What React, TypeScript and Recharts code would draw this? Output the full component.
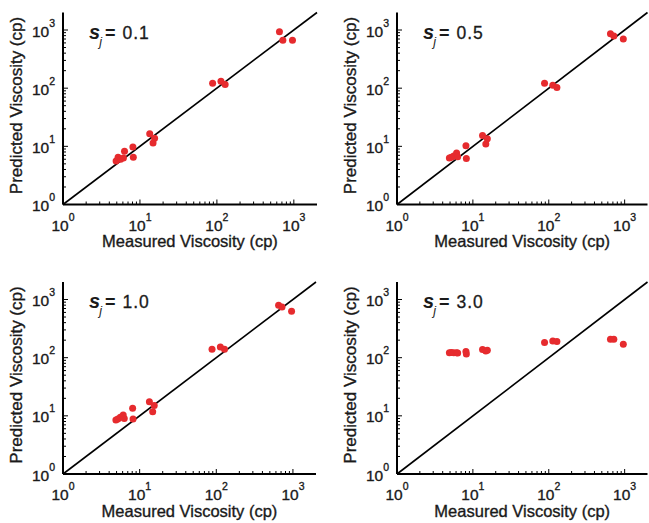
import React from 'react';
import { ScatterChart, Scatter, XAxis, YAxis, ReferenceLine } from 'recharts';

// ---- data ----
const measured = [4.9, 5.2, 5.6, 6.1, 6.3, 8.1, 8.2, 13.4, 14.8, 15.5, 88, 113, 128, 650, 720, 960];
const predictedS01 = [5.6, 6.5, 6.0, 6.3, 8.2, 9.7, 6.5, 16.4, 11.4, 13.8, 122, 132, 116, 930, 670, 670];
const predictedS05 = [6.3, 6.5, 6.8, 7.7, 6.6, 10.2, 6.2, 15.3, 11.0, 13.5, 121, 112, 103, 860, 790, 700];
const predictedS10 = [8.5, 8.8, 9.5, 10.3, 9.0, 13.5, 8.8, 17.5, 11.8, 15.0, 139, 152, 139, 800, 740, 630];
const predictedS30 = [122, 123, 122, 121, 120, 128, 116, 138, 130, 134, 182, 193, 190, 207, 207, 170];
const panelValues = ['0.1', '0.5', '1.0', '3.0'];
const axisDomain = [1, 2000];
const axisTicks = [1, 2, 3, 4, 5, 6, 7, 8, 9, 10, 20, 30, 40, 50, 60, 70, 80, 90, 100, 200, 300, 400, 500, 600, 700, 800, 900, 1000];
const majorTickLabels: Record<number, string> = { 1: '0', 10: '1', 100: '2', 1000: '3' };
const identityLine = [{ x: 1, y: 1 }, { x: 2000, y: 2000 }];

const FONT = '"Liberation Sans", Arial, Helvetica, sans-serif';
const TXT = '#1a1a1a';
const DOT = '#e62b2e';
const TXT_STROKE = 0.35;

const mk = (ys: number[]) => measured.map((x, i) => ({ x, y: ys[i] }));

function BottomTick(props: any) {
  const { x, y, payload } = props;
  const v = payload.value;
  const exp = majorTickLabels[v];
  const major = exp !== undefined;
  return (
    <g>
      <line x1={x} x2={x} y1={y} y2={y - (major ? 5 : 3)} stroke="#000" strokeWidth={1} />
      {major && (
        <text x={x} y={y + 26} textAnchor="middle" fontSize={15.5} fontFamily={FONT} fill={TXT} stroke={TXT} strokeWidth={TXT_STROKE}>
          10<tspan fontSize={10.5} dy={-10}>{exp}</tspan>
        </text>
      )}
    </g>
  );
}

function TopTick(props: any) {
  const { x, y, payload } = props;
  const major = majorTickLabels[payload.value] !== undefined;
  return <line x1={x} x2={x} y1={y} y2={y + (major ? 5 : 3)} stroke="#000" strokeWidth={1} />;
}

function LeftTick(props: any) {
  const { x, y, payload } = props;
  const v = payload.value;
  const exp = majorTickLabels[v];
  const major = exp !== undefined;
  return (
    <g>
      <line x1={x} x2={x + (major ? 5 : 3)} y1={y} y2={y} stroke="#000" strokeWidth={1} />
      {major && (
        <text x={x - 8} y={y + 6.5} textAnchor="end" fontSize={15.5} fontFamily={FONT} fill={TXT} stroke={TXT} strokeWidth={TXT_STROKE}>
          10<tspan fontSize={10.5} dy={-10}>{exp}</tspan>
        </text>
      )}
    </g>
  );
}

function makeRightTick(color: string) {
  return function RightTick(props: any) {
    const { x, y, payload } = props;
    const major = majorTickLabels[payload.value] !== undefined;
    return <line x1={x} x2={x - (major ? 5 : 3)} y1={y} y2={y} stroke={major ? '#666' : color} strokeWidth={1} />;
  };
}

const Dot = (props: any) => <circle cx={props.cx} cy={props.cy} r={3.5} fill={DOT} />;

type PanelCfg = {
  left: number; top: number; width: number; height: number;
  margin: { top: number; right: number; bottom: number; left: number };
  ys: number[]; sval: string; rightColor: string;
};

const panels: PanelCfg[] = [
  { left: 0, top: 0, width: 325, height: 260, margin: { top: 12.5, right: 8, bottom: 25.5, left: 18 }, ys: predictedS01, sval: panelValues[0], rightColor: '#000' },
  { left: 334, top: 0, width: 315, height: 260, margin: { top: 12.5, right: 1.5, bottom: 25.5, left: 18 }, ys: predictedS05, sval: panelValues[1], rightColor: '#b0b0b0' },
  { left: 0, top: 262, width: 325, height: 261, margin: { top: 20, right: 9, bottom: 19, left: 18 }, ys: predictedS10, sval: panelValues[2], rightColor: '#000' },
  { left: 334, top: 262, width: 315, height: 261, margin: { top: 20, right: 1.5, bottom: 19, left: 18 }, ys: predictedS30, sval: panelValues[3], rightColor: '#b0b0b0' },
];

const Y_AXIS_W = 45;
const X_AXIS_H = 30;

function Panel({ cfg }: { cfg: PanelCfg }) {
  const plotLeft = cfg.margin.left + Y_AXIS_W;
  const plotTop = cfg.margin.top;
  const RightTick = makeRightTick(cfg.rightColor);
  const solidRight = cfg.rightColor === '#000';
  return (
    <div style={{ position: 'absolute', left: cfg.left, top: cfg.top, width: cfg.width, height: cfg.height }}>
      <ScatterChart width={cfg.width} height={cfg.height} margin={cfg.margin}>
        <XAxis
          dataKey="x" type="number" scale="log" domain={axisDomain} allowDataOverflow
          ticks={axisTicks} interval={0} tick={(p: any) => <BottomTick {...p} />}
          tickLine={false} tickSize={0} tickMargin={0} height={X_AXIS_H}
          axisLine={{ stroke: '#000', strokeWidth: 2 }}
          label={{
            content: (lp: any) => {
              const vb = lp.viewBox;
              return (
                <text x={vb.x + vb.width / 2} y={vb.y + 42.5} textAnchor="middle" fontSize={16.5} fontFamily={FONT} fill={TXT} stroke={TXT} strokeWidth={TXT_STROKE}>
                  Measured Viscosity (cp)
                </text>
              );
            },
          }}
        />
        <XAxis
          xAxisId="top" orientation="top" type="number" scale="log" domain={axisDomain} allowDataOverflow
          ticks={axisTicks} interval={0} tick={(p: any) => <TopTick {...p} />}
          tickLine={false} tickSize={0} tickMargin={0} height={0}
          axisLine={{ stroke: '#000', strokeWidth: 2 }}
        />
        <YAxis
          dataKey="y" type="number" scale="log" domain={axisDomain} allowDataOverflow
          ticks={axisTicks} interval={0} tick={(p: any) => <LeftTick {...p} />}
          tickLine={false} tickSize={0} tickMargin={0} width={Y_AXIS_W}
          axisLine={{ stroke: '#000', strokeWidth: 2 }}
          label={{
            content: (lp: any) => {
              const vb = lp.viewBox;
              const lx = vb.x + vb.width - 41.5;
              const ly = vb.y + vb.height / 2 - 3;
              return (
                <text x={lx} y={ly} transform={`rotate(-90, ${lx}, ${ly})`} textAnchor="middle" fontSize={17} fontFamily={FONT} fill={TXT} stroke={TXT} strokeWidth={TXT_STROKE}>
                  Predicted Viscosity (cp)
                </text>
              );
            },
          }}
        />
        <YAxis
          yAxisId="right" orientation="right" type="number" scale="log" domain={axisDomain} allowDataOverflow
          ticks={axisTicks} interval={0} tick={(p: any) => <RightTick {...p} />}
          tickLine={false} tickSize={0} tickMargin={0} width={0}
          axisLine={solidRight ? { stroke: '#000', strokeWidth: 2 } : { stroke: cfg.rightColor, strokeWidth: 1, strokeDasharray: '1 2' }}
        />
        <ReferenceLine segment={identityLine} stroke="#000" strokeWidth={1.6} ifOverflow="visible" />
        <Scatter data={mk(cfg.ys)} shape={Dot} isAnimationActive={false} />
      </ScatterChart>
      <svg width={cfg.width} height={cfg.height} style={{ position: 'absolute', left: 0, top: 0, pointerEvents: 'none' }}>
        <text x={plotLeft + 26} y={plotTop + 26} fontFamily={FONT} fill={TXT}>
          <tspan fontSize={20} fontWeight="bold" fontStyle="italic">s</tspan>
          <tspan fontSize={12.5} fontStyle="italic" dy={7} dx={-1}>j</tspan>
          <tspan fontSize={18} fontWeight="bold" dy={-7} dx={3}>=</tspan>
          <tspan fontSize={17.5} dx={7} letterSpacing={1} stroke={TXT} strokeWidth={0.3}>{cfg.sval}</tspan>
        </text>
      </svg>
    </div>
  );
}

export default function App() {
  return (
    <div style={{ position: 'absolute', left: 0, top: 0, width: 649, height: 523, background: '#fff' }}>
      {panels.map((p, i) => (
        <Panel key={i} cfg={p} />
      ))}
    </div>
  );
}
